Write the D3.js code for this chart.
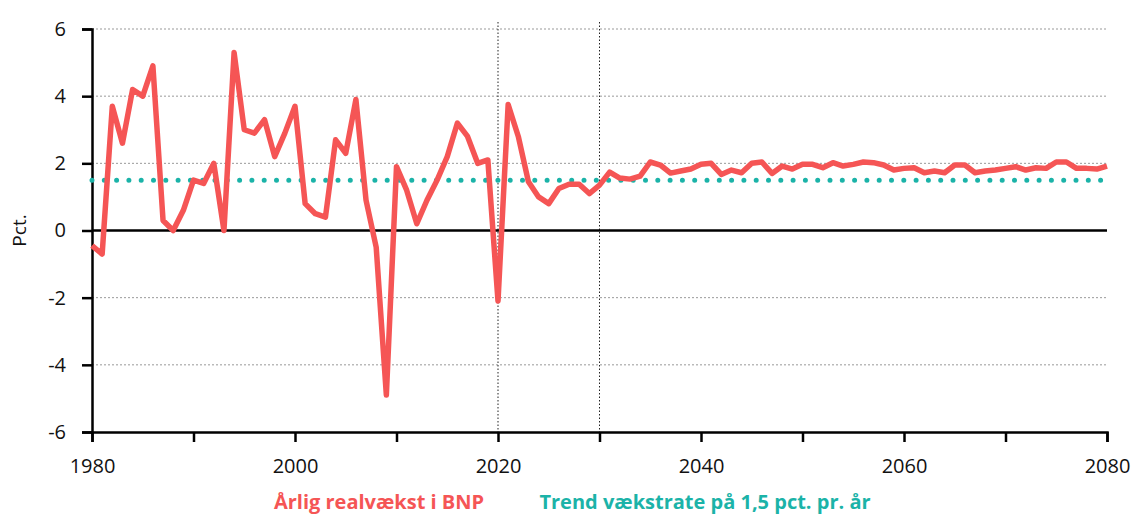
<!DOCTYPE html>
<html>
<head>
<meta charset="utf-8">
<script src="https://cdn.jsdelivr.net/npm/d3@7"></script>
<style>
  body { margin: 0; background: #fff; }
  text { font-family: "Open Sans", "Noto Sans", sans-serif; }
</style>
</head>
<body>
<svg id="chart" width="1132" height="516"></svg>
<script>
const years = d3.range(1980, 2081);
const growth = [
  -0.45, -0.7, 3.7, 2.6, 4.2, 4.0, 4.9, 0.3, 0.0, 0.6,
  1.5, 1.4, 2.0, 0.0, 5.3, 3.0, 2.9, 3.3, 2.2, 2.9,
  3.7, 0.8, 0.5, 0.4, 2.7, 2.3, 3.9, 0.9, -0.5, -4.9,
  1.9, 1.2, 0.2, 0.9, 1.5, 2.2, 3.2, 2.8, 2.0, 2.1,
  -2.1, 3.75, 2.8, 1.45, 1.0, 0.8, 1.25, 1.38, 1.38, 1.1,
  1.35, 1.74, 1.56, 1.53, 1.62, 2.04, 1.95, 1.71, 1.77, 1.83,
  1.97, 2.0, 1.67, 1.8, 1.72, 2.0, 2.04, 1.7, 1.92, 1.83,
  1.97, 1.97, 1.87, 2.02, 1.92, 1.97, 2.04, 2.02, 1.95, 1.8,
  1.85, 1.87, 1.72, 1.77, 1.72, 1.95, 1.95, 1.72, 1.77, 1.8,
  1.85, 1.9, 1.8, 1.87, 1.85, 2.04, 2.04, 1.85, 1.85, 1.83,
  1.92
];
const trendValue = 1.5;
const trendRange = [1980, 2079.5];
const yTicks = [-6, -4, -2, 0, 2, 4, 6];
const xTicks = d3.range(1980, 2081, 10);
const xLabels = [1980, 2000, 2020, 2040, 2060, 2080];
const markerYears = [2020, 2030];
const legendItems = [
  { name: "Årlig realvækst i BNP", color: "#f55555" },
  { name: "Trend vækstrate på 1,5 pct. pr. år", color: "#1bb3a8" }
];

const svg = d3.select("#chart");
const x = d3.scaleLinear().domain([1980, 2080]).range([92, 1107]);
const y = d3.scaleLinear().domain([-6, 6]).range([432, 29]);

// horizontal grid
svg.append("g")
  .selectAll("line")
  .data(yTicks.filter(d => d !== 0 && d !== -6))
  .join("line")
  .attr("x1", x(1980)).attr("x2", x(2080))
  .attr("y1", d => y(d)).attr("y2", d => y(d))
  .attr("stroke", "#999").attr("stroke-width", 1)
  .attr("stroke-dasharray", "2,2");

// vertical markers
svg.append("g")
  .selectAll("line")
  .data(markerYears)
  .join("line")
  .attr("x1", d => x(d)).attr("x2", d => x(d))
  .attr("y1", 22).attr("y2", y(-6))
  .attr("stroke", "#222").attr("stroke-width", 1)
  .attr("stroke-dasharray", "1.5,2");

// zero line
svg.append("line")
  .attr("x1", x(1980)).attr("x2", x(2080))
  .attr("y1", y(0)).attr("y2", y(0))
  .attr("stroke", "#000").attr("stroke-width", 2.5);

// y axis
const yAxis = svg.append("g")
  .attr("transform", `translate(${x(1980)},0)`)
  .call(d3.axisLeft(y).tickValues(yTicks).tickSize(10).tickPadding(16)
    .tickFormat(d => String(d)));
yAxis.select(".domain").attr("stroke-width", 2.5);
yAxis.selectAll(".tick line").attr("stroke-width", 2.5);
yAxis.selectAll("text").attr("font-size", 20).attr("fill", "#111");

// x axis
const xAxis = svg.append("g")
  .attr("transform", `translate(0,${y(-6)})`)
  .call(d3.axisBottom(x).tickValues(xTicks).tickSize(10).tickPadding(17)
    .tickFormat(d => xLabels.includes(d) ? d : ""));
xAxis.select(".domain").attr("stroke-width", 2.5);
xAxis.selectAll(".tick line").attr("stroke-width", 2.5);
xAxis.selectAll("text").attr("font-size", 20).attr("fill", "#111");

// y label
svg.append("text")
  .attr("transform", `translate(26,${y(0)}) rotate(-90)`)
  .attr("text-anchor", "middle")
  .attr("font-size", 19)
  .attr("fill", "#111")
  .text("Pct.");

// trend dotted line
svg.append("line")
  .attr("x1", x(trendRange[0])).attr("x2", x(trendRange[1]))
  .attr("y1", y(trendValue)).attr("y2", y(trendValue))
  .attr("stroke", legendItems[1].color)
  .attr("stroke-width", 5)
  .attr("stroke-linecap", "round")
  .attr("stroke-dasharray", "0,12.3");

// growth line
const line = d3.line().x((d, i) => x(years[i])).y(d => y(d));
svg.append("path")
  .datum(growth)
  .attr("d", line)
  .attr("fill", "none")
  .attr("stroke", legendItems[0].color)
  .attr("stroke-width", 5.5)
  .attr("stroke-linejoin", "round");

// legend
const legend = svg.append("g").attr("font-size", 20).attr("font-weight", 700);
legend.append("text")
  .attr("x", 379).attr("y", 509).attr("text-anchor", "middle")
  .attr("fill", legendItems[0].color).text(legendItems[0].name);
legend.append("text")
  .attr("x", 705).attr("y", 509).attr("text-anchor", "middle")
  .attr("fill", legendItems[1].color).text(legendItems[1].name);
</script>
</body>
</html>
